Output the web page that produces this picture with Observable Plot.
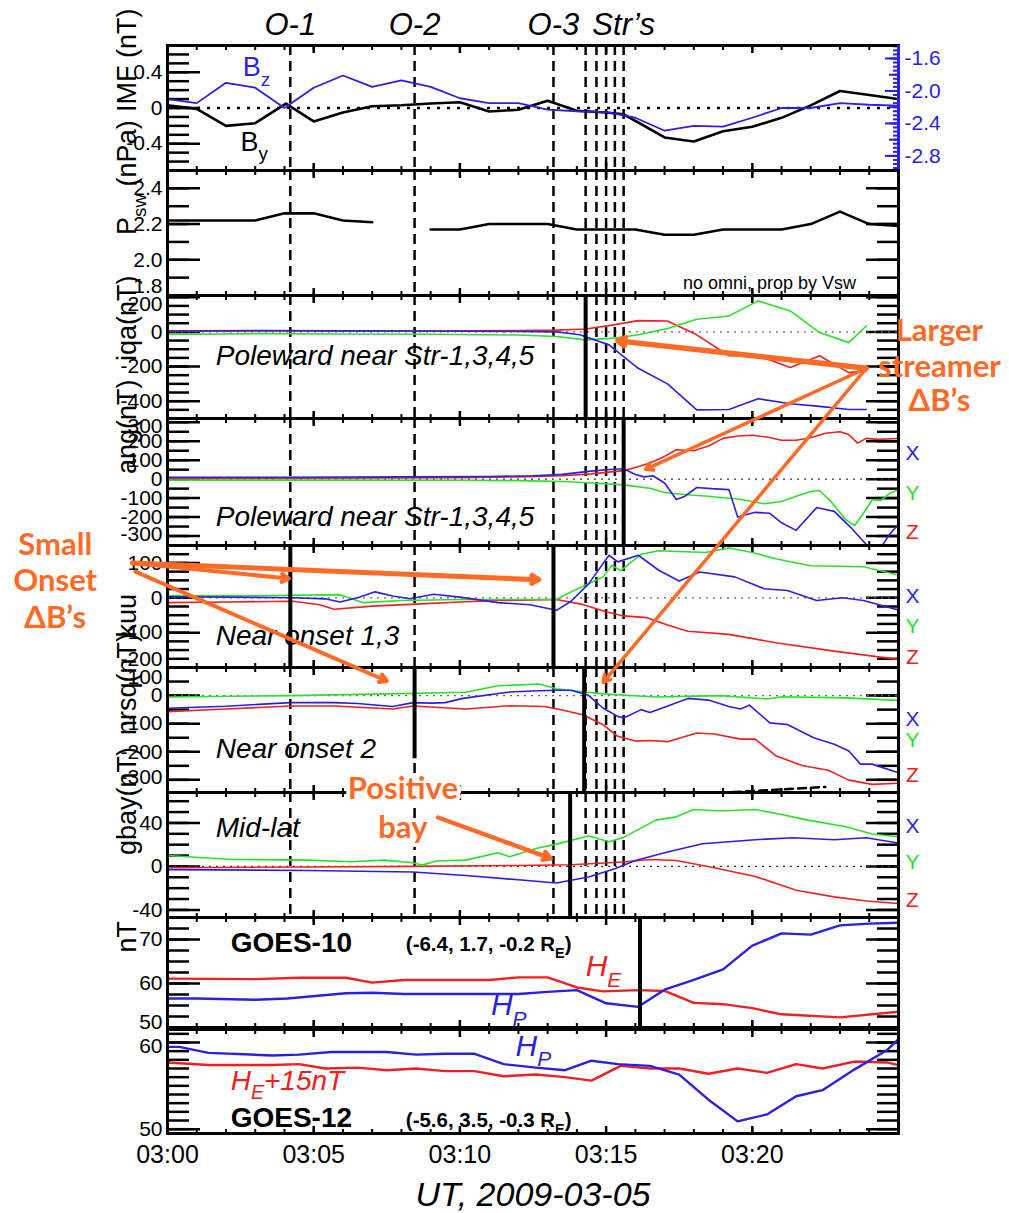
<!DOCTYPE html>
<html><head><meta charset="utf-8">
<script src="https://cdn.jsdelivr.net/npm/d3@7"></script>
<script src="https://cdn.jsdelivr.net/npm/@observablehq/plot@0.6"></script>
<style>
body{margin:0;background:#fff;}
#fig{position:relative;width:1009px;height:1213px;overflow:hidden;background:#fff;}
</style></head><body><div id="fig"></div>
<script>
// ---------------- DATA (minutes after 03:00 UT, value) ----------------
const onsetTimes = [4.2, 8.45, 13.2];
const onsetLabels = ["O-1", "O-2", "O-3"];
const streamerTimes = [14.3, 14.67, 15.0, 15.3, 15.6];
const streamerLabel = "Str’s";
const timeLabelTicks = [0, 5, 10, 15, 20];

const imfBy = [[0,0.03],[1,-0.01],[2,-0.2],[3,-0.17],[4.05,0.05],[5,-0.15],[6,-0.05],[7,0.02],[8,0.03],[9,0.05],[10,0.065],[11,-0.04],[12,-0.02],[13,0.08],[14,-0.03],[15,-0.05],[15.6,-0.07],[17,-0.33],[18,-0.375],[19,-0.26],[20,-0.21],[21,-0.11],[22,0.03],[23,0.19],[24,0.145],[25,0.1]];
const imfBz = [[0,-2.10],[1,-2.15],[2,-1.90],[3,-1.96],[4,-2.21],[5,-1.96],[6,-1.81],[7,-1.95],[8,-1.87],[9,-1.95],[10,-2.09],[11,-2.15],[12,-2.15],[13,-2.23],[14,-2.25],[15,-2.26],[16,-2.33],[17,-2.49],[18,-2.43],[19,-2.44],[20,-2.33],[21,-2.21],[22,-2.21],[23,-2.15],[24,-2.17],[25,-2.18]];
const psw = [[0,2.22],[3,2.22],[4,2.26],[5,2.26],[6,2.22],[7,2.21],[8,NaN],[9,2.17],[10,2.17],[11,2.2],[13,2.2],[14,2.17],[16,2.17],[17,2.14],[18,2.14],[19,2.17],[21,2.17],[22,2.2],[23,2.27],[24,2.2],[25,2.19]];

const iqaX = [[0,5],[3,8],[6,6],[9,5],[12,2],[13.3,0],[14.1,-17],[15.1,-75],[16.1,-210],[17.1,-300],[18.1,-450],[19.2,-448],[20.2,-386],[21.3,-415],[22.3,-430],[23.3,-448],[23.9,-448]];
const iqaY = [[0,-15],[3,-10],[6,-12],[9,-14],[12,-18],[13.3,-27],[14.3,-46],[15.3,-36],[16.1,-17],[17.1,20],[18.1,73],[19.2,92],[20.2,179],[21.3,121],[22.3,-4],[23.3,-62],[23.9,34]];
const iqaZ = [[0,3],[3,5],[6,5],[9,5],[12,8],[13.3,10],[14.3,17],[15.1,36],[16.1,65],[17.1,63],[18.1,-17],[19.2,-138],[20.2,-138],[21.3,-205],[22.3,-138],[23.3,-235],[23.9,-225]];

const angX = [[0,10],[4,10],[8,12],[11,14],[12.5,18],[13.5,25],[14.4,41],[15,50],[15.6,55],[16,25],[16.3,12],[16.6,18],[17,-20],[17.4,-107],[17.7,-90],[18.1,-44],[18.6,-50],[19.2,-55],[19.5,-200],[20.1,-175],[20.6,-180],[21,-230],[21.5,-270],[22.2,-150],[22.8,-170],[23.4,-260],[23.9,-345],[24.2,-400],[24.4,-360],[24.7,-290],[25,-240]];
const angY = [[0,-5],[5,-5],[10,-6],[12,-8],[13.5,-12],[14.5,-20],[15.6,-30],[16,-38],[16.5,-48],[17,-70],[17.5,-78],[18,-85],[18.5,-90],[19,-98],[19.5,-105],[20,-118],[20.4,-130],[21,-118],[21.5,-90],[22,-65],[22.3,-60],[22.7,-120],[23.2,-215],[23.5,-245],[23.8,-180],[24.1,-110],[24.4,-112],[24.7,-75],[25,-55]];
const angZ = [[0,3],[5,5],[10,8],[12,12],[13.5,18],[14.5,28],[15.6,45],[16,62],[16.5,85],[17,120],[17.4,155],[18,150],[18.5,175],[19,215],[19.5,228],[20,232],[20.5,222],[21,205],[21.5,205],[22,218],[22.5,242],[23,250],[23.3,235],[23.6,190],[23.9,215],[24.3,210],[25,215]];

const kuuX = [[0,3],[2,2],[4.3,0],[5.4,-3],[5.9,-12],[6.5,0],[7.1,17],[7.7,5],[8.3,-3],[9.1,10],[10,2],[11.3,-14],[12.4,-20],[13.3,-36],[13.8,-10],[14.4,40],[15.1,122],[15.4,103],[16.1,122],[16.8,79],[17.5,48],[18.2,74],[19.4,60],[20.4,26],[21.2,21],[22.2,-8],[23.1,0],[23.8,-8],[25,-35]];
const kuuY = [[0,6],[3,6],[5.9,9],[6.7,-14],[8,-8],[10,-5],[11.3,-5],[13.3,-5],[13.8,17],[14.4,40],[14.9,60],[15.2,93],[15.5,78],[16.2,125],[16.8,135],[18.4,130],[19.2,143],[20,130],[20.8,112],[22,92],[23.8,89],[25,65]];
const kuuZ = [[0,-14],[2,-12],[4.3,-10],[5.2,-20],[5.7,-33],[7,-24],[8.3,-19],[10,-12],[11.3,-8],[13.3,-5],[14.2,-19],[15,-40],[15.6,-52],[16.4,-57],[17.1,-78],[17.8,-96],[19.2,-105],[20.8,-129],[22.8,-153],[25,-177]];

const nrsqX = [[0,-45],[2,-38],[4.2,-25],[5.7,-25],[6.5,-28],[7.7,-39],[8.4,-25],[9,-27],[9.5,-25],[10.1,-10],[11.7,13],[12.7,17],[13.3,19],[13.8,19],[14.4,1],[14.9,-45],[15.4,-74],[15.6,-80],[16.2,-50],[16.5,-60],[16.9,-45],[17.8,-10],[18.5,-16],[19.2,-39],[19.6,-48],[19.9,-34],[20.6,-97],[21.2,-103],[22.1,-150],[22.8,-173],[23.3,-197],[23.7,-244],[24.1,-244],[25,-275]];
const nrsqY = [[0,-5],[4.2,0],[7.5,6],[10.2,12],[11.3,35],[12.7,41],[13.3,24],[13.8,18],[14.9,6],[16.7,-5],[18.9,0],[20.5,-12],[21,-4],[23.2,-8],[25,-17]];
const nrsqZ = [[0,-57],[2,-48],[4.2,-37],[5.7,-37],[7.7,-48],[8.4,-37],[10.2,-48],[11.7,-36],[12.9,-39],[13.5,-51],[14.2,-68],[14.9,-104],[15.4,-145],[16,-162],[16.5,-160],[17.1,-164],[18.1,-133],[18.7,-137],[19.6,-155],[20.1,-155],[20.8,-214],[21.7,-249],[22.6,-266],[23.3,-301],[24.1,-316],[25,-312]];
const nrsqExtra = [[18.9,-346],[20.3,-338],[22.5,-325]];

const gbayX = [[0,-3],[4.8,-3.7],[8.4,-5.2],[10.2,-8.3],[12,-12.3],[13.3,-15.3],[14.4,-9.8],[15.3,-2.1],[16,5.5],[17.1,13.2],[18.3,20.8],[20.1,24.5],[21.4,26.4],[22.8,24.5],[23.9,26.4],[25,21.5]];
const gbayY = [[0,10],[2.2,6.4],[4.8,5.8],[6.3,4.3],[7.4,5.8],[8.4,3.4],[8.7,1.2],[9.2,5],[10.2,5.8],[11.3,12.5],[11.7,8.9],[12.6,16.5],[13.3,20.5],[14.4,27.9],[15.1,22.7],[15.6,26.7],[16.7,42.6],[17.4,45.6],[18,52.3],[18.9,51],[20.1,52.3],[21,47.7],[21.9,42.6],[23.2,36.5],[24.1,29.8],[25,27.3]];
const gbayZ = [[0,-1.2],[4.8,-0.6],[8.4,0],[12,0.9],[13.8,1.5],[15.6,4],[16.5,6.4],[17.4,5.5],[18.7,-1.2],[20.1,-9.2],[21.5,-22],[22.8,-28],[23.9,-31.8],[25,-34.2]];

const goes10HE = [[0,61.1],[3,61],[4.5,61.3],[6.1,61.3],[7,60.2],[8.1,60.8],[11,60.8],[12,61.4],[13,61.4],[14,59.1],[14.9,58.2],[16.1,58.5],[17,58.3],[18,55.6],[19,55.3],[20,54.4],[21,53],[23,52.3],[25,53.6]];
const goes10HP = [[0,56.6],[1,56.6],[3,56.3],[4.1,56.6],[6.1,57.8],[7,57.9],[8.1,57.6],[12,57.6],[13,58.1],[14,58.5],[15,55.5],[16.1,54.7],[17,58.6],[18,60.8],[19,63.2],[20,68.6],[21,71.4],[22,71.1],[23,73.2],[24,73.6],[25,73.8]];
const goes12HP = [[0,59.5],[0.4,59.5],[1.4,58.8],[3.6,58.5],[4.5,58.6],[5.6,58.9],[7.5,58.9],[8.5,58.6],[9.5,58.7],[10.5,58.7],[11.5,57.5],[12.6,57.1],[13.6,56.8],[14.5,57.9],[15.4,57.5],[16.5,57.3],[17.5,56.3],[18.5,53.4],[19.5,50.9],[20.5,51.7],[21.5,53.8],[22.4,54.5],[23.5,56.9],[24.6,59.1],[25,60.4]];
const goes12HEplus15 = [[0,57.7],[1.4,57.4],[3.6,57.4],[4.5,57.5],[5.4,57],[6.5,57.1],[7.5,56.8],[8.5,57],[9.5,56.7],[10.5,56.7],[11.5,56.1],[12.6,56.3],[13.6,56],[14.5,55.6],[15.5,57.3],[16.5,57],[17.5,57],[18.5,56.4],[19.5,57],[20.5,56.5],[21.5,57.5],[22.4,57],[23.5,57.8],[24.6,57.7],[25,57.4]];

// ---------------- STYLE / LAYOUT ----------------
const W = 1009, ML = 167, MR = 111, PAD = 40;
const BLUE = "#2c1fe0", GREEN = "#2be02b", RED = "#ee2020", ORANGE = "#ff6a26";
const FONT = "'Liberation Sans', Arial, Helvetica, sans-serif";
const NARROW = "'Liberation Sans Narrow', 'Liberation Sans', Arial, sans-serif";
const imfDomain = [-0.7, 0.7];
const bzDomain = [-2.98, -1.44];
const toLeft = d3.scaleLinear(bzDomain, imfDomain);
const fmtTime = m => `03:${String(m).padStart(2, "0")}`;
const allEvents = onsetTimes.concat(streamerTimes);
const tr = (a, k) => d3.range(a[0], a[1] + 1e-9, k).map(v => Math.round(v * 1000) / 1000);

const panels = [
  {key:"imf", top:45, h:125, domain:imfDomain, minor:tr([-0.7,0.7],0.1), labels:[-0.4,0,0.4], fmt:d=>d===0?"0":d.toFixed(1),
   title:"IMF (nT)", titleDy:4, blueRight:true, zero:{stroke:"black", dash:"3,7", w:2.5}, dashed:true,
   series:[{data:imfBy, stroke:"black", w:2.6}, {data:imfBz.map(([m,v])=>[m,toLeft(v)]), stroke:BLUE, w:1.8}],
   texts:[{t:"B_{z}", m:2.57, v:0.45, fill:BLUE, size:27, anchor:"start"},{t:"B_{y}", m:2.5, v:-0.38, fill:"black", size:27, anchor:"start"}]},
  {key:"psw", top:170, h:125, domain:[1.8,2.5], minor:tr([1.8,2.5],0.1), labels:[1.8,2.0,2.2,2.4], fmt:d=>d.toFixed(1), nudge:{1.8:-9},
   title:"P_{sw} (nPa)", titleDy:2, dashed:true,
   series:[{data:psw, stroke:"black", w:2.6}],
   texts:[{t:"no omni, prop by Vsw", m:23.55, v:1.87, size:18, anchor:"end"}]},
  {key:"iqa", top:295, h:123, domain:[-500,210], minor:tr([-500,200],50), labels:[-400,-200,0,200], fmt:String, nudge:{200:7},
   title:"iqa(nT)", titleDy:4, dashed:true, zero:{stroke:"#666", dash:"2,5", w:1.2},
   markers:[14.3],
   series:[{data:iqaZ, stroke:RED, w:1.6},{data:iqaY, stroke:GREEN, w:1.6},{data:iqaX, stroke:BLUE, w:1.6}],
   texts:[{t:"Poleward near Str-1,3,4,5", m:1.65, v:-138, size:28, italic:true, anchor:"start"}]},
  {key:"ang", top:418, h:127, domain:[-350,320], minor:tr([-350,300],50), labels:[-300,-200,-100,0,100,200,300], fmt:String, nudge:{300:4, "-300":-2},
   title:"ang(nT)", titleDy:-8, dashed:true, zero:{stroke:"#333", dash:"2,5", w:1.2},
   markers:[15.6],
   series:[{data:angZ, stroke:RED, w:1.6},{data:angY, stroke:GREEN, w:1.6},{data:angX, stroke:BLUE, w:1.6}],
   texts:[{t:"Poleward near Str-1,3,4,5", m:1.65, v:-200, size:28, italic:true, anchor:"start"}],
   xyz:[138,-77,-280]},
  {key:"kuu", top:545, h:122, domain:[-200,150], minor:tr([-200,150],25), labels:[-200,-100,0,100], fmt:String, nudge:{"-200":-8},
   title:"kuu", titleDy:31, dashed:true, zero:{stroke:"#666", dash:"2,5", w:1.2},
   markers:[4.2,13.2],
   series:[{data:kuuZ, stroke:RED, w:1.6},{data:kuuY, stroke:GREEN, w:1.6},{data:kuuX, stroke:BLUE, w:1.6}],
   texts:[{t:"Near onset 1,3", m:1.65, v:-109, size:28, italic:true, anchor:"start"}],
   xyz:[3,-83,-172]},
  {key:"nrsq", top:667, h:125, domain:[-345,100], minor:tr([-300,100],50), labels:[-300,-200,-100,0,100], fmt:String, nudge:{100:10, "-300":-3},
   title:"nrsq(nT)", titleDy:5, dashed:true, zero:{stroke:"#666", dash:"2,5", w:1.2},
   markers:[14.25], partialMarkers:[{m:8.45, y1:100, y2:-225}],
   series:[{data:nrsqZ, stroke:RED, w:1.6},{data:nrsqY, stroke:GREEN, w:1.6},{data:nrsqX, stroke:BLUE, w:1.6},{data:nrsqExtra, stroke:"black", w:2.5, dash:"8,5"}],
   texts:[{t:"Near onset 2", m:1.65, v:-192, size:28, italic:true, anchor:"start"}],
   xyz:[-83,-160,-284]},
  {key:"gbay", top:792, h:125, domain:[-47,68], minor:tr([-40,60],10), labels:[-40,0,40], fmt:String,
   title:"gbay(nT)", titleDy:0, dashed:true, zero:{stroke:"#333", dash:"2,5", w:1.2},
   markers:[13.77],
   series:[{data:gbayZ, stroke:RED, w:1.6},{data:gbayY, stroke:GREEN, w:1.6},{data:gbayX, stroke:BLUE, w:1.6}],
   texts:[{t:"Mid-lat", m:1.65, v:35, size:28, italic:true, anchor:"start"}],
   xyz:[36.8,3.7,-31.3]},
  {key:"goes10", top:917, h:110, domain:[50,75], minor:tr([50,75],2.5), labels:[50,60,70], fmt:String, nudge:{50:-5},
   title:"nT", titleDy:-20,
   markers:[16.16],
   series:[{data:goes10HE, stroke:RED, w:2.4},{data:goes10HP, stroke:BLUE, w:2.4}],
   texts:[{t:"GOES-10", m:2.16, v:69.3, size:28, bold:true, anchor:"start"},
          {t:"(-6.4, 1.7, -0.2 R_{E})", m:8.15, v:68.9, size:20.5, bold:true, anchor:"start"},
          {t:"H_{E}", m:14.3, v:63.8, size:30, italic:true, fill:RED, anchor:"start"},
          {t:"H_{P}", m:11.06, v:55, size:30, italic:true, fill:BLUE, anchor:"start"}]},
  {key:"goes12", top:1029, h:104, domain:[49.5,61.5], minor:tr([50,61],1), labels:[50,60], fmt:String, nudge:{60:4},
   bottomLabels:true,
   series:[{data:goes12HEplus15, stroke:RED, w:2.4},{data:goes12HP, stroke:BLUE, w:2.4}],
   texts:[{t:"H_{P}", m:11.9, v:59.6, size:30, italic:true, fill:BLUE, anchor:"start"},
          {t:"H_{E}+15nT", m:2.16, v:55.6, size:28, italic:true, fill:RED, anchor:"start"},
          {t:"GOES-12", m:2.16, v:51.3, size:28, bold:true, anchor:"start"},
          {t:"(-5.6, 3.5, -0.3 R_{E})", m:8.15, v:51, size:20.5, bold:true, anchor:"start"}]}
];

// ---------------- HELPERS ----------------
const NS = "http://www.w3.org/2000/svg";
function applySubscripts(svg) {
  svg.querySelectorAll("text").forEach(t => {
    const tsp = t.querySelectorAll("tspan");
    const targets = tsp.length ? [...tsp] : [t];
    targets.forEach(el => {
      const s = el.textContent;
      if (!s.includes("_{")) return;
      el.textContent = "";
      const re = /_\{([^}]*)\}/g; let last = 0, mm, up = false;
      const add = (txt, attrs) => { const e = document.createElementNS(NS, "tspan"); e.textContent = txt; for (const k in attrs) e.setAttribute(k, attrs[k]); el.appendChild(e); };
      while ((mm = re.exec(s))) {
        const before = s.slice(last, mm.index);
        if (before) { add(before, up ? {dy:"-0.35em"} : {}); up = false; }
        add(mm[1], {"font-size":"70%", dy:"0.5em"}); up = true;
        last = re.lastIndex;
      }
      const rest = s.slice(last);
      if (rest) add(rest, up ? {dy:"-0.35em"} : {});
    });
  });
}

const fig = document.getElementById("fig");
const built = {};

for (const p of panels) {
  const marks = [];
  const minutes = d3.range(0, 26), fives = d3.range(0, 26, 5);
  for (const anchor of ["top", "bottom"]) {
    marks.push(Plot.axisX(minutes, {anchor, tickSize:-4, fill:"none", strokeWidth:2, label:null}));
    marks.push(Plot.axisX(fives, {anchor, tickSize:-7, fill:"none", strokeWidth:2.5, label:null}));
  }
  // left ticks and labels
  marks.push(Plot.axisY(p.minor, {anchor:"left", tickSize:-22, fill:"none", strokeWidth:2.5, label:null}));
  marks.push(Plot.axisY(p.labels, {anchor:"left", tickSize:-33, fill:"none", strokeWidth:2.5, label:null}));
  const nudge = p.nudge || {};
  const groups = d3.groups(p.labels, v => nudge[v] || 0);
  for (const [dy, vals] of groups) {
    marks.push(Plot.axisY(vals, {anchor:"left", tickSize:-33, tickPadding:38, stroke:"none", dy, tickFormat:p.fmt, fontSize:21, fontFamily:NARROW, label:null}));
  }
  if (p.blueRight) {
    const bzMinor = tr([-2.95,-1.45],0.05), bzMid = tr([-2.8,-1.6],0.2), bzLab = [-1.6,-2.0,-2.4,-2.8];
    marks.push(Plot.axisY(bzMinor.map(toLeft), {anchor:"right", tickSize:-6, fill:"none", stroke:BLUE, strokeWidth:2, label:null}));
    marks.push(Plot.axisY(bzMid.map(toLeft), {anchor:"right", tickSize:-10, fill:"none", stroke:BLUE, strokeWidth:2, label:null}));
    marks.push(Plot.axisY(bzLab.map(toLeft), {anchor:"right", tickSize:-14, tickPadding:20, color:BLUE, strokeWidth:2, fontSize:21, tickFormat:d=>toLeft.invert(d).toFixed(1), label:null}));
  } else {
    marks.push(Plot.axisY(p.minor, {anchor:"right", tickSize:-22, fill:"none", strokeWidth:2.5, label:null}));
    marks.push(Plot.axisY(p.labels, {anchor:"right", tickSize:-33, fill:"none", strokeWidth:2.5, label:null}));
  }
  if (p.zero) marks.push(Plot.ruleY([0], {stroke:p.zero.stroke, strokeDasharray:p.zero.dash, strokeWidth:p.zero.w}));
  if (p.dashed) marks.push(Plot.ruleX(allEvents, {strokeDasharray:"10,6", strokeWidth:2.5}));
  for (const s of p.series) {
    marks.push(Plot.line(s.data, {x:d=>d[0], y:d=>d[1], stroke:s.stroke, strokeWidth:s.w, strokeDasharray:s.dash, clip:true, curve:"linear"}));
  }
  if (p.markers) marks.push(Plot.ruleX(p.markers, {strokeWidth:4}));
  if (p.partialMarkers) marks.push(Plot.ruleX(p.partialMarkers, {x:"m", y1:"y1", y2:"y2", strokeWidth:4}));
  for (const t of (p.texts || [])) {
    marks.push(Plot.text([t], {x:"m", y:"v", text:"t", fill:t.fill || "black", fontSize:t.size, textAnchor:t.anchor || "middle",
      fontStyle:t.italic ? "italic" : "normal", fontWeight:t.bold ? "bold" : "normal"}));
  }
  if (p.xyz) {
    const lab = [{t:"X", v:p.xyz[0], c:BLUE}, {t:"Y", v:p.xyz[1], c:GREEN}, {t:"Z", v:p.xyz[2], c:RED}];
    marks.push(Plot.text(lab, {x:25, y:"v", text:"t", fill:"c", fontSize:21, dx:14}));
  }
  if (p.title) marks.push(Plot.text([p.title], {frameAnchor:"left", lineAnchor:"middle", text:d=>d, rotate:-90, dx:-40, dy:p.titleDy, fontSize:27}));
  if (p.key === "imf") {
    marks.push(Plot.text(onsetTimes, {x:d=>d, text:(d,i)=>onsetLabels[i], frameAnchor:"top", lineAnchor:"middle", dy:-20, fontSize:31, fontStyle:"italic", fontFamily:NARROW}));
    marks.push(Plot.text([streamerTimes[streamerTimes.length-1]], {x:d=>d, text:()=>streamerLabel, frameAnchor:"top", lineAnchor:"middle", dy:-20, fontSize:31, fontStyle:"italic", fontFamily:NARROW}));
  }
  if (p.bottomLabels) {
    marks.push(Plot.axisX(timeLabelTicks, {anchor:"bottom", tickSize:0, tickPadding:12, tickFormat:fmtTime, fontSize:25, label:null}));
    marks.push(Plot.text(["UT, 2009-03-05"], {frameAnchor:"bottom", lineAnchor:"middle", text:d=>d, dy:62, fontSize:34, fontStyle:"italic"}));
  }
  marks.push(Plot.frame({strokeWidth:3}));
  if (p.blueRight) marks.push(Plot.ruleX([25], {stroke:BLUE, strokeWidth:3}));

  const svg = Plot.plot({
    width: W, height: p.h + 2 * PAD,
    marginLeft: ML, marginRight: MR, marginTop: PAD, marginBottom: PAD,
    x: {domain: [0, 25], label: null},
    y: {domain: p.domain, label: null},
    style: `position:absolute;left:0;top:${p.top - PAD}px;background:transparent;overflow:visible;font-family:${FONT};`,
    marks
  });
  applySubscripts(svg);
  fig.appendChild(svg);
  built[p.key] = {svg, top: p.top};
}

// ---------------- ANNOTATION OVERLAY ----------------
const annotArrows = [
  {from:["iqa",23.9,-210], to:["iqa",15.4,-52], w:5.5},
  {from:["iqa",23.9,-210], to:["ang",16.35,52], w:3.5},
  {from:["iqa",23.9,-210], to:["nrsq",14.9,47], w:3.5},
  {from:["kuu",-1.2,100], to:["kuu",4.15,55], w:4},
  {from:["kuu",-1.2,100], to:["kuu",12.7,52], w:5},
  {from:["kuu",-1.1,75], to:["nrsq",7.5,52], w:4},
  {from:["gbay",9.25,45], to:["gbay",13.1,7.4], w:4.5}
];
const annotTexts = [
  {t:"Larger", at:["iqa",26.4,6]}, {t:"streamer", at:["iqa",26.4,-202]}, {t:"ΔB’s", at:["iqa",26.4,-398]},
  {t:"Small", at:["ang",-3.84,-350]}, {t:"Onset", at:["kuu",-3.84,49]}, {t:"ΔB’s", at:["kuu",-3.84,-57]},
  {t:"Positive", at:["nrsq",8.05,-333], halo:true}, {t:"bay", at:["gbay",8.05,35], halo:true}
];
function page([key, m, v]) {
  const b = built[key];
  return [b.svg.scale("x").apply(m), b.top - PAD + b.svg.scale("y").apply(v)];
}
const arrowRows = annotArrows.map(a => { const [x1,y1] = page(a.from), [x2,y2] = page(a.to); return {x1,y1,x2,y2,w:a.w}; });
const textRows = annotTexts.map(a => { const [x,y] = page(a.at); return {x, y, t:a.t, halo:a.halo}; });

const overlay = Plot.plot({
  width: W, height: 1213, margin: 0,
  x: {type:"identity", axis:null}, y: {type:"identity", axis:null},
  style: `position:absolute;left:0;top:0;background:transparent;overflow:visible;font-family:Lato, 'Open Sans', sans-serif;`,
  marks: [
    Plot.text(textRows.filter(d => d.halo), {x:"x", y:"y", text:"t", fill:ORANGE, stroke:"white", strokeWidth:8, fontSize:31, fontWeight:"bold"}),
    Plot.text(textRows.filter(d => !d.halo), {x:"x", y:"y", text:"t", fill:ORANGE, fontSize:31, fontWeight:"bold"}),
    Plot.arrow(arrowRows, {x1:"x1", y1:"y1", x2:"x2", y2:"y2", stroke:ORANGE, strokeWidth:"w", headLength:12})
  ]
});
fig.appendChild(overlay);
</script></body></html>
